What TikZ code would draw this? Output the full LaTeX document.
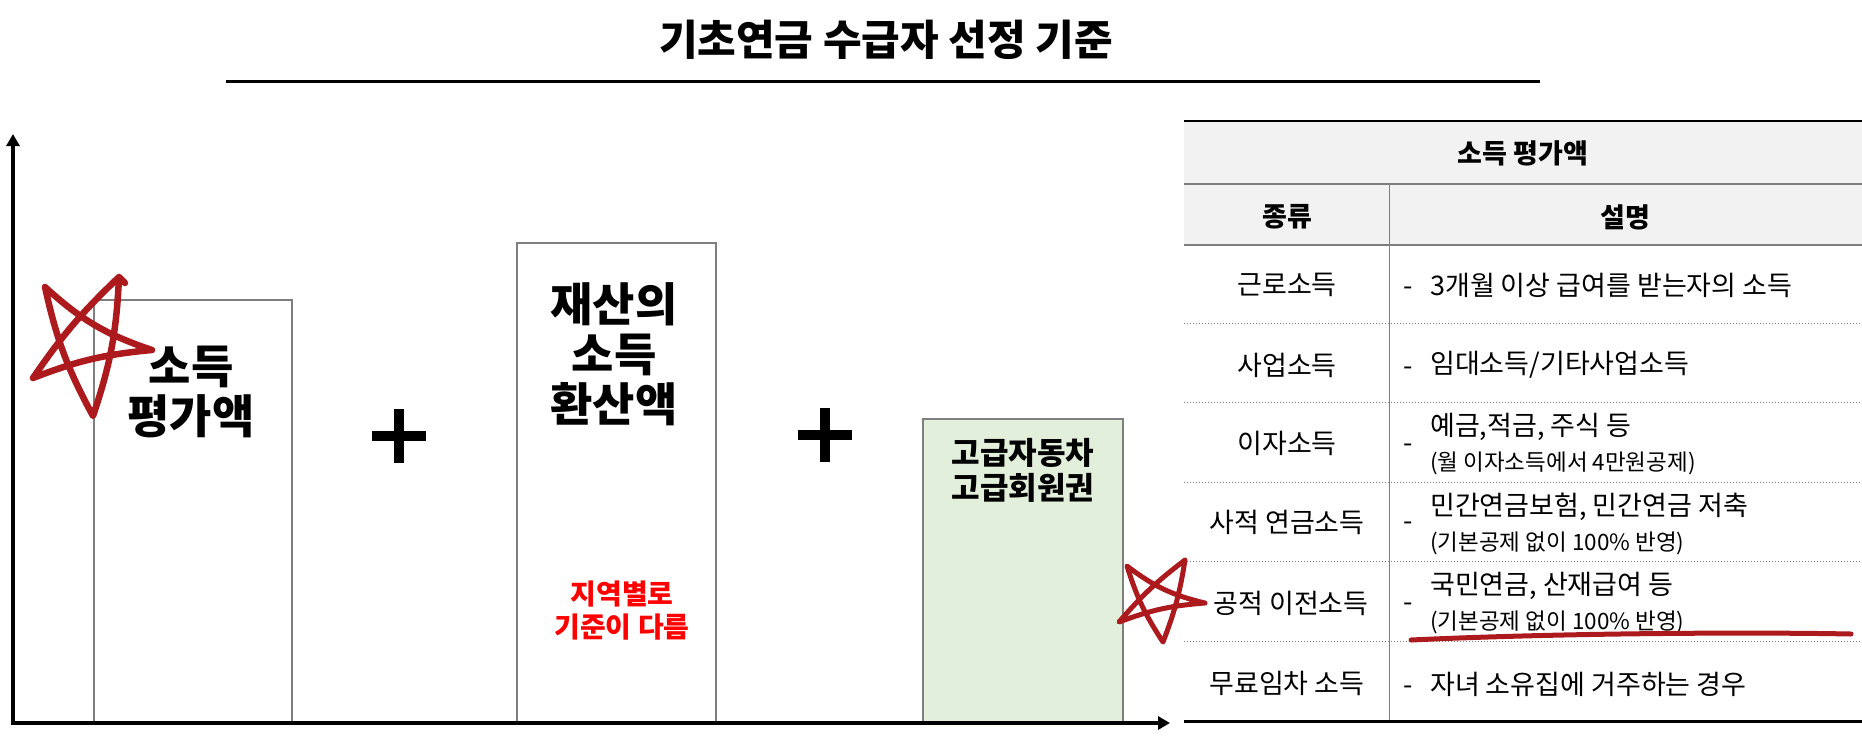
\documentclass[tikz,border=0pt]{standalone}
\usepackage{fontspec}
\setmainfont{Noto Sans CJK KR}
\usepackage{xcolor}
\usetikzlibrary{arrows.meta}
\definecolor{boxgray}{RGB}{127,127,127}
\definecolor{boxgreen}{RGB}{226,239,218}
\definecolor{headgray}{RGB}{242,242,242}
\definecolor{penred}{RGB}{172,26,30}

\begin{document}
\begin{tikzpicture}[x=1pt,y=-1pt,
    bar/.style={draw=boxgray,line width=2pt},
    axis/.style={line width=4pt,-{Triangle[width=13pt,length=12pt]}},
    big/.style={inner sep=0pt,align=center,font=\bfseries\fontsize{46}{50}\selectfont},
    cell/.style={inner sep=0pt,font=\fontsize{27}{30}\selectfont},
    small/.style={inner sep=0pt,font=\fontsize{22.5}{26}\selectfont},
    head/.style={inner sep=0pt,font=\bfseries\fontsize{27}{30}\selectfont},
    pen/.style={draw=penred,line width=6.5pt,line join=round,line cap=round}]
      \useasboundingbox (0,0) rectangle (1862,737);
      \node[inner sep=0pt,font=\bfseries\fontsize{42}{44}\selectfont] (title) at (886,40) {기초연금 수급자 선정 기준};
      \draw[line width=3pt] (226,81) -- (1540,81);
      \draw[bar] (94,300) rectangle (292,722);
      \draw[bar] (517,243) rectangle (716,722);
      \draw[bar,fill=boxgreen] (923,419) rectangle (1123,722);
      \coordinate (origin) at (13,723);
      \coordinate (ytop) at (13,134);
      \coordinate (xstart) at (11,723);
      \coordinate (xend) at (1170,723);
      \draw[axis] (origin) -- (ytop);
      \draw[axis] (xstart) -- (xend);
      \node[big] (income) at (191,392) {소득\\평가액};
      \node[big] (property) at (614,354) {재산의\\소득\\환산액};
      \node[inner sep=0pt,align=center,text=red,font=\bfseries\fontsize{28}{33}\selectfont] (region) at (622,611) {지역별로\\기준이 다름};
      \node[inner sep=0pt,align=center,font=\bfseries\fontsize{31}{35}\selectfont] (luxury) at (1023,470) {고급자동차\\고급회원권};
      \fill (372,431) rectangle (426,441);
      \fill (394,409) rectangle (404,463);
      \fill (798,430) rectangle (852,440);
      \fill (820,408) rectangle (830,462);
      \fill[headgray] (1184,121) rectangle (1862,245);
      \draw[line width=1.5pt] (1184,121) -- (1862,121);
      \draw[boxgray,line width=1.5pt] (1184,184) -- (1862,184);
      \draw[boxgray,line width=1.5pt] (1184,245) -- (1862,245);
      \draw[boxgray,line width=1pt] (1389,184) -- (1389,721);
      \draw[boxgray,line width=1pt,dotted] (1184,323) -- (1862,323);
      \draw[boxgray,line width=1pt,dotted] (1184,402) -- (1862,402);
      \draw[boxgray,line width=1pt,dotted] (1184,482) -- (1862,482);
      \draw[boxgray,line width=1pt,dotted] (1184,561) -- (1862,561);
      \draw[boxgray,line width=1pt,dotted] (1184,641) -- (1862,641);
      \draw[line width=3pt] (1184,721) -- (1862,721);
      \node[head] (tabhead) at (1523,153) {소득 평가액};
      \node[head] (kindhead) at (1287,217) {종류};
      \node[head] (deschead) at (1625,217) {설명};
      \node[cell] (work) at (1287,285) {근로소득};
      \node[cell] (workdash) at (1408,285) {\vphantom{소}-};
      \node[cell,anchor=west] (workdesc) at (1430,285) {3개월 이상 급여를 받는자의 소득};
      \node[cell] (business) at (1287,365) {사업소득};
      \node[cell] (businessdash) at (1408,365) {\vphantom{소}-};
      \node[cell,anchor=west] (businessdesc) at (1430,365) {임대소득/기타사업소득};
      \node[cell] (interest) at (1287,443) {이자소득};
      \node[cell] (interestdash) at (1408,442) {\vphantom{소}-};
      \node[cell,anchor=west] (interestdesc) at (1430,427) {예금,적금, 주식 등};
      \node[small,anchor=west] (interestnote) at (1430,463) {(월 이자소득에서 4만원공제)};
      \node[cell] (private) at (1287,522) {사적 연금소득};
      \node[cell] (privatedash) at (1408,520) {\vphantom{소}-};
      \node[cell,anchor=west] (privatedesc) at (1430,507) {민간연금보험, 민간연금 저축};
      \node[small,anchor=west] (privatenote) at (1430,543) {(기본공제 없이 100\% 반영)};
      \node[cell] (public) at (1291,603) {공적 이전소득};
      \node[cell] (publicdash) at (1408,601) {\vphantom{소}-};
      \node[cell,anchor=west] (publicdesc) at (1430,586) {국민연금, 산재급여 등};
      \node[small,anchor=west] (publicnote) at (1430,622) {(기본공제 없이 100\% 반영)};
      \node[cell] (rentfree) at (1287,683) {무료임차 소득};
      \node[cell] (rentfreedash) at (1408,684) {\vphantom{소}-};
      \node[cell,anchor=west] (rentfreedesc) at (1430,684) {자녀 소유집에 거주하는 경우};
      \draw[pen] (119,277) to[bend left=8] (93,416) to[bend left=8] (45,287)
        to[bend right=12] (152,350) to[bend right=8] (33,378) to[bend left=6] (119,277) -- (125,283);
      \draw[pen,line width=5pt] (1185,560) to[bend left=6] (1163,642) to[bend left=8] (1127,566)
        to[bend right=12] (1205,603) to[bend right=8] (1119,622) to[bend left=6] (1185,560);
      \draw[penred,line width=5pt,line cap=round] (1411,640) .. controls (1560,633) and (1750,632) .. (1851,634);
    \end{tikzpicture}
\end{document}
